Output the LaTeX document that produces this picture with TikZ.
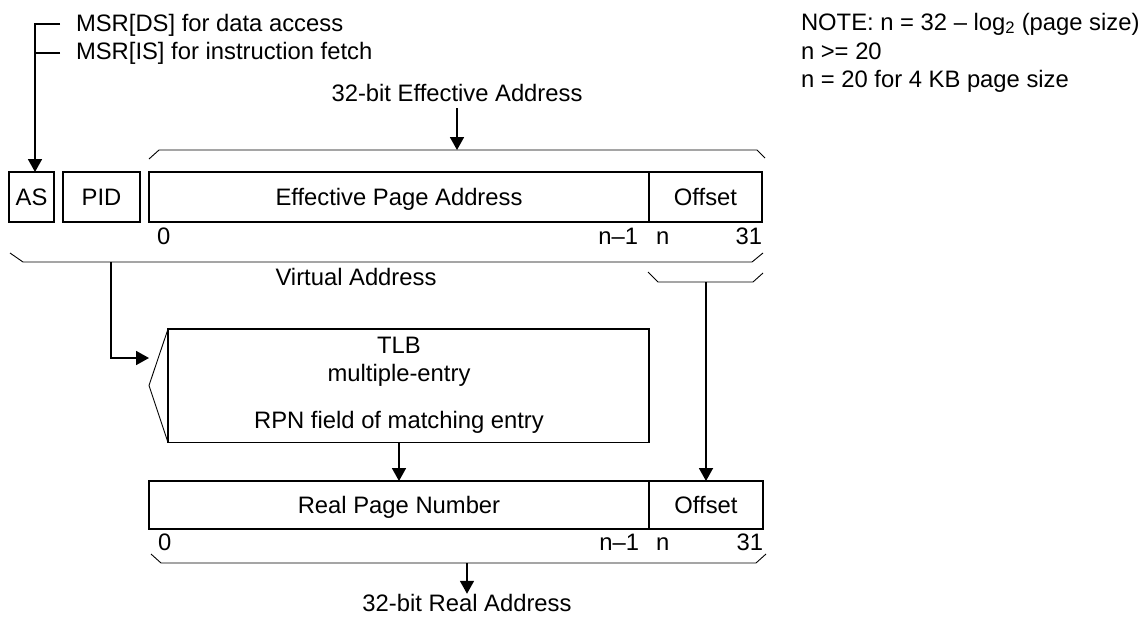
\documentclass[tikz,border=0pt]{standalone}
\usepackage{fontspec}
\setmainfont{Liberation Sans}
\usetikzlibrary{arrows.meta}
\begin{document}
\begin{tikzpicture}[x=1pt,y=-1pt,
  every node/.style={font=\fontsize{23.8}{28}\selectfont, inner sep=0pt, outer sep=0pt},
  field/.style={draw, line width=1.8pt, anchor=north west, text height=17pt, text depth=0pt},
  brace/.style={line width=0.9pt},
  conn/.style={line width=1.8pt},
  arr/.style={conn, -{Triangle[width=14pt,length=13pt]}}]
\useasboundingbox (0,0) rectangle (1140,616);

% address-space selection
\node[anchor=base west] (dstext) at (76,31) {MSR[DS] for data access};
\node[anchor=base west] (istext) at (76,59) {MSR[IS] for instruction fetch};
\coordinate (dstick) at (60,24);
\coordinate (istick) at (60,53);
\coordinate (msrtop) at (35,24);

% notes
\node[anchor=base west] (note1) at (801,30) {NOTE: n = 32 – log\textsubscript{2} (page size)};
\node[anchor=base west] (note2) at (801,59) {n >= 20};
\node[anchor=base west] (note3) at (801,87) {n = 20 for 4 KB page size};

% effective address
\node[anchor=base] (eatext) at (457,101) {32-bit Effective Address};
\coordinate (eab) at (457,150);
\draw[brace] (149,159) -- (159,150) -- (757,150) -- (765,158);

\node[field, minimum width=45, minimum height=50] (as) at (9,172) {AS};
\node[field, minimum width=77, minimum height=50] (pid) at (63,172) {PID};
\node[field, minimum width=500, minimum height=50] (epa) at (149,172) {Effective Page Address};
\node[field, minimum width=113, minimum height=50] (eoff) at (649,172) {Offset};

\node[anchor=base west] (e0) at (157,244) {0};
\node[anchor=base east] (en1) at (638,244) {n–1};
\node[anchor=base west] (en) at (656,244) {n};
\node[anchor=base east] (e31) at (762,244) {31};

% virtual address brace and offset brace
\draw[brace] (10,253) -- (23,262) -- (752,262) -- (763,253);
\coordinate (vab) at (111,262);
\node[anchor=base] (vatext) at (356,285) {Virtual Address};
\draw[brace] (648,272) -- (658,282) -- (753,282) -- (763,273);
\coordinate (ofb) at (706,282);

% TLB
\node[field, minimum width=481, minimum height=113.5] (tlb) at (168,329) {};
\draw[brace] (tlb.north west) -- (149,385.5) -- (tlb.south west);
\coordinate (tlbin) at (149,358);
\node[anchor=base] (tlb1) at (399,353) {TLB};
\node[anchor=base] (tlb2) at (399,381) {multiple-entry};
\node[anchor=base] (tlb3) at (399,428) {RPN field of matching entry};

% real address
\node[field, minimum width=500, minimum height=48] (rpn) at (149,481) {Real Page Number};
\node[field, minimum width=114, minimum height=48] (roff) at (649,481) {Offset};

\node[anchor=base west] (r0) at (158,550) {0};
\node[anchor=base east] (rn1) at (639,550) {n–1};
\node[anchor=base west] (rn) at (656,550) {n};
\node[anchor=base east] (r31) at (763,550) {31};

\draw[brace] (151,554) -- (161,563) -- (756,563) -- (766,554);
\coordinate (rab) at (467,563);
\node[anchor=base] (ratext) at (467,611) {32-bit Real Address};

% connectors
\draw[conn] (istick) -- (msrtop |- istick);
\draw[arr] (dstick) -- (msrtop) -- (msrtop |- as.north);
\draw[arr] ([yshift=-7pt]eatext.south) -- (eab);
\draw[arr] (vab) |- (tlbin);
\draw[arr] (ofb) -- (roff.north);
\draw[arr] (rpn.north |- tlb.south) -- (rpn.north);
\draw[arr] (rab) -- (ratext.north);
\end{tikzpicture}
\end{document}
